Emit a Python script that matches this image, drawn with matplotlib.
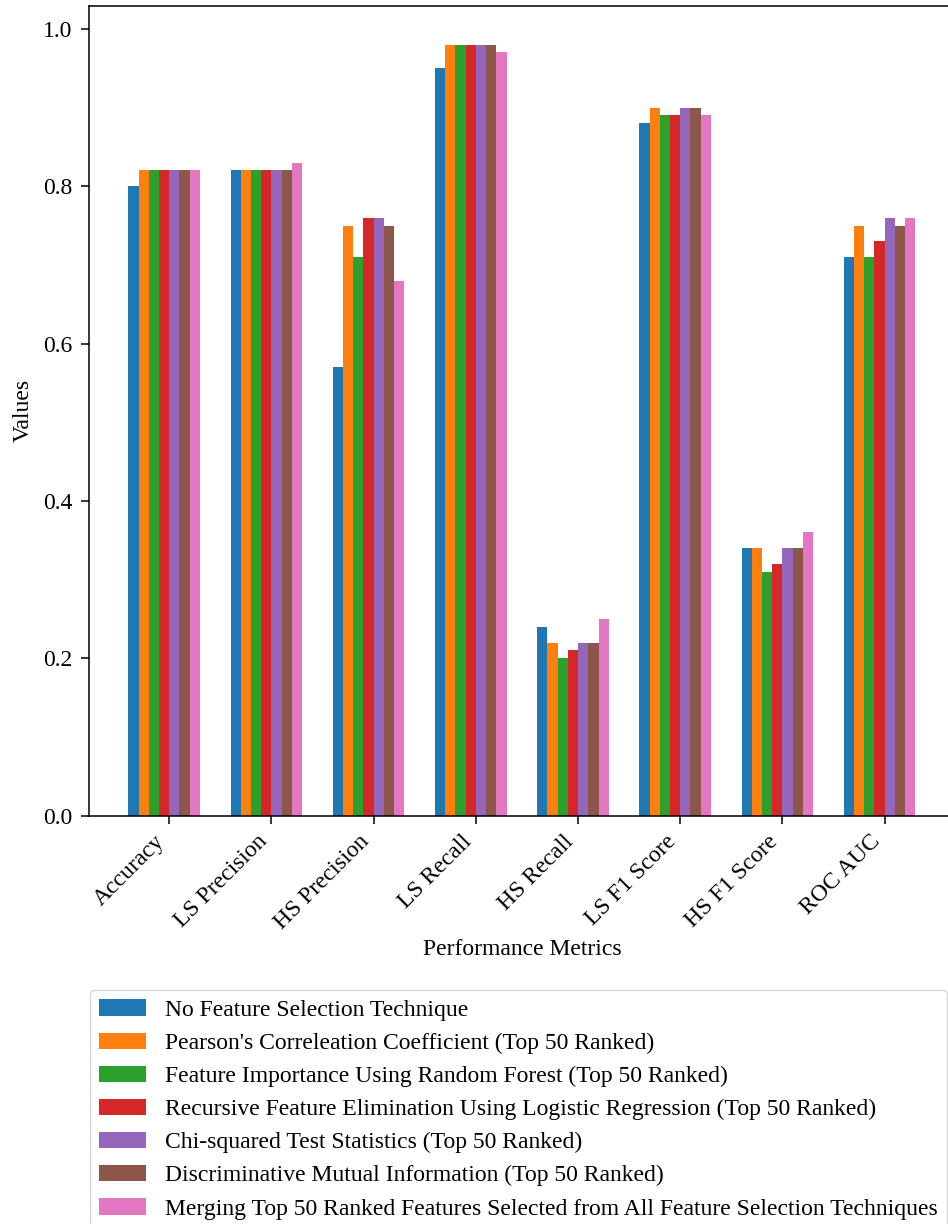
import numpy as np
import matplotlib
matplotlib.use("Agg")
import matplotlib.pyplot as plt

plt.rcParams['font.family'] = ['Liberation Serif', 'DejaVu Serif']

metrics = ["Accuracy", "LS Precision", "HS Precision", "LS Recall",
           "HS Recall", "LS F1 Score", "HS F1 Score", "ROC AUC"]

methods = [
    "No Feature Selection Technique",
    "Pearson's Correleation Coefficient (Top 50 Ranked)",
    "Feature Importance Using Random Forest (Top 50 Ranked)",
    "Recursive Feature Elimination Using Logistic Regression (Top 50 Ranked)",
    "Chi-squared Test Statistics (Top 50 Ranked)",
    "Discriminative Mutual Information (Top 50 Ranked)",
    "Merging Top 50 Ranked Features Selected from All Feature Selection Techniques",
]

no_fs     = [0.80, 0.82, 0.57, 0.95, 0.24, 0.88, 0.34, 0.71]
pearson   = [0.82, 0.82, 0.75, 0.98, 0.22, 0.90, 0.34, 0.75]
rf_imp    = [0.82, 0.82, 0.71, 0.98, 0.20, 0.89, 0.31, 0.71]
rfe_lr    = [0.82, 0.82, 0.76, 0.98, 0.21, 0.89, 0.32, 0.73]
chi2      = [0.82, 0.82, 0.76, 0.98, 0.22, 0.90, 0.34, 0.76]
mutual    = [0.82, 0.82, 0.75, 0.98, 0.22, 0.90, 0.34, 0.75]
merged    = [0.82, 0.83, 0.68, 0.97, 0.25, 0.89, 0.36, 0.76]

series = [no_fs, pearson, rf_imp, rfe_lr, chi2, mutual, merged]

W, H = 948, 1224
fs = 17
fig = plt.figure(figsize=(W / 100, H / 100), dpi=100)
ax = fig.add_axes([89 / W, 1 - 815.7 / H, 865.7 / W, 809.7 / H])
for sp in ax.spines.values():
    sp.set_linewidth(1.1)

x = np.arange(len(metrics))
bw = 0.1
for i, (vals, lab) in enumerate(zip(series, methods)):
    ax.bar(x + i * bw, vals, bw, label=lab)

ax.set_xticks(x + bw * len(series) / 2)
ax.set_xticklabels(metrics, rotation=45, ha='right', fontsize=fs)
ax.tick_params(axis='x', length=5.5, width=1.1, pad=5.5)
ax.tick_params(axis='y', labelsize=fs, length=5.5, width=1.1, pad=6.5)
ax.set_xlabel("Performance Metrics", fontsize=fs)
ax.set_ylabel("Values", fontsize=fs, labelpad=7)

fig.legend(loc='upper left', bbox_to_anchor=(89.5 / W, 1 - 990 / H),
           bbox_transform=fig.transFigure, fontsize=fs, borderaxespad=0,
           labelspacing=0.49)

fig.savefig("out.png", dpi=100)
